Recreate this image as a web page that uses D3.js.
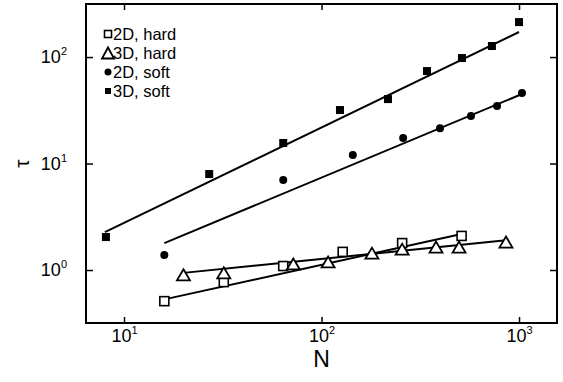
<!DOCTYPE html>
<html>
<head>
<meta charset="utf-8">
<script src="https://d3js.org/d3.v7.min.js"></script>
<style>
  html, body { margin: 0; padding: 0; background: #fff; }
  svg { display: block; font-family: "Liberation Sans", Arial, Helvetica, sans-serif; }
</style>
</head>
<body>
<svg id="chart" width="563" height="382"></svg>
<script>
// measured points (N, tau)
const nHard2D = [16, 32, 64, 128, 256, 512];
const tauHard2D = [0.51, 0.77, 1.09, 1.48, 1.79, 2.09];
const nHard3D = [20, 32, 72, 108, 180, 256, 380, 497, 859];
const tauHard3D = [0.90, 0.94, 1.14, 1.19, 1.44, 1.57, 1.64, 1.64, 1.83];
const nSoft2D = [16, 64, 144, 259, 398, 571, 774, 1035];
const tauSoft2D = [1.38, 7.0, 12.0, 17.4, 21.5, 27.9, 34.7, 45.9];
const nSoft3D = [8.1, 27, 64, 124, 217, 342, 514, 729, 1000];
const tauSoft3D = [2.04, 7.97, 15.6, 31.8, 40.3, 73.9, 97.9, 127, 213];

// fitted power-law lines, given by their end points
const fitHard2D = { n: [16, 512], tau: [0.53, 2.18] };
const fitHard3D = { n: [20, 859], tau: [0.94, 1.90] };
const fitSoft2D = { n: [16, 1035], tau: [1.79, 45] };
const fitSoft3D = { n: [8, 1000], tau: [2.27, 172] };

const xTicks = [10, 100, 1000];
const yTicks = [1, 10, 100];
const legendLabels = ["2D, hard", "3D, hard", "2D, soft", "3D, soft"];

const svg = d3.select("#chart");
const plotLeft = 86, plotRight = 557, plotTop = 4, plotBottom = 323;

const x = d3.scaleLog().domain([6.42, 1557]).range([plotLeft, plotRight]);
const y = d3.scaleLog().domain([0.318, 315]).range([plotBottom, plotTop]);

// axes, ticks pointing inwards on all four sides
function styleAxis(g) {
    g.select(".domain").remove();
    g.selectAll(".tick line").attr("stroke", "#000").attr("stroke-width", 1.5);
}
function powerLabels(g) {
    g.selectAll(".tick text")
        .attr("font-size", 18).attr("fill", "#000")
        .attr("font-family", "Liberation Sans, Arial, sans-serif")
        .append("tspan").attr("dy", -8).attr("font-size", 11)
        .text(d => Math.round(Math.log10(d)));
}

svg.append("g")
    .attr("transform", `translate(0,${plotBottom})`)
    .call(d3.axisBottom(x).tickValues(xTicks).tickSize(-6).tickPadding(6).tickFormat(() => "10"))
    .call(styleAxis)
    .call(powerLabels);

svg.append("g")
    .attr("transform", `translate(0,${plotTop})`)
    .call(d3.axisTop(x).tickValues(xTicks).tickSize(-6).tickFormat(""))
    .call(styleAxis);

svg.append("g")
    .attr("transform", `translate(${plotLeft},0)`)
    .call(d3.axisLeft(y).tickValues(yTicks).tickSize(-7).tickPadding(19).tickFormat(() => "10"))
    .call(styleAxis)
    .call(powerLabels);

svg.append("g")
    .attr("transform", `translate(${plotRight},0)`)
    .call(d3.axisRight(y).tickValues(yTicks).tickSize(-7).tickFormat(""))
    .call(styleAxis);

// frame
svg.append("rect")
    .attr("x", plotLeft).attr("y", plotTop)
    .attr("width", plotRight - plotLeft).attr("height", plotBottom - plotTop)
    .attr("fill", "none").attr("stroke", "#000").attr("stroke-width", 2);

// axis titles
svg.append("text")
    .attr("x", x(100)).attr("y", 367)
    .attr("text-anchor", "middle").attr("font-size", 23)
    .text("N");

svg.append("text")
    .attr("transform", `translate(29,${y(10)}) rotate(-90)`)
    .attr("text-anchor", "middle").attr("font-size", 21)
    .text("\u03c4");

// fit lines
const line = d3.line().x(d => x(d[0])).y(d => y(d[1]));
[fitHard2D, fitHard3D, fitSoft2D, fitSoft3D].forEach(f => {
    svg.append("path")
        .attr("d", line(d3.zip(f.n, f.tau)))
        .attr("fill", "none").attr("stroke", "#000").attr("stroke-width", 2);
});

// marker drawing helpers
function openSquare(g, cx, cy, s) {
    g.append("rect").attr("x", cx - s / 2).attr("y", cy - s / 2)
        .attr("width", s).attr("height", s)
        .attr("fill", "#fff").attr("stroke", "#000").attr("stroke-width", 1.6);
}
function openTriangle(g, cx, cy, w, h) {
    g.append("path")
        .attr("d", `M${cx - w / 2},${cy + h / 2}L${cx + w / 2},${cy + h / 2}L${cx},${cy - h / 2}Z`)
        .attr("fill", "#fff").attr("stroke", "#000").attr("stroke-width", 1.8);
}
function dot(g, cx, cy, r) {
    g.append("circle").attr("cx", cx).attr("cy", cy).attr("r", r).attr("fill", "#000");
}
function filledSquare(g, cx, cy, s) {
    g.append("rect").attr("x", cx - s / 2).attr("y", cy - s / 2)
        .attr("width", s).attr("height", s).attr("fill", "#000");
}

const marks = svg.append("g");
nSoft3D.forEach((n, i) => filledSquare(marks, x(n), y(tauSoft3D[i]), 8));
nSoft2D.forEach((n, i) => dot(marks, x(n), y(tauSoft2D[i]), 4));
nHard2D.forEach((n, i) => openSquare(marks, x(n), y(tauHard2D[i]), 9));
nHard3D.forEach((n, i) => openTriangle(marks, x(n), y(tauHard3D[i]), 13, 11));

// legend
const legend = svg.append("g");
const markerX = 108, textX = 113, rowY = 34, rowStep = 19;
legendLabels.forEach((label, i) => {
    const cy = rowY + i * rowStep;
    if (i === 0) openSquare(legend, markerX, cy, 7);
    if (i === 1) openTriangle(legend, markerX, cy, 12, 11);
    if (i === 2) dot(legend, markerX, cy, 3.5);
    if (i === 3) filledSquare(legend, markerX, cy, 6);
    legend.append("text")
        .attr("x", textX).attr("y", cy + 5.5)
        .attr("font-size", 16.5)
        .text(label);
});
</script>
</body>
</html>
